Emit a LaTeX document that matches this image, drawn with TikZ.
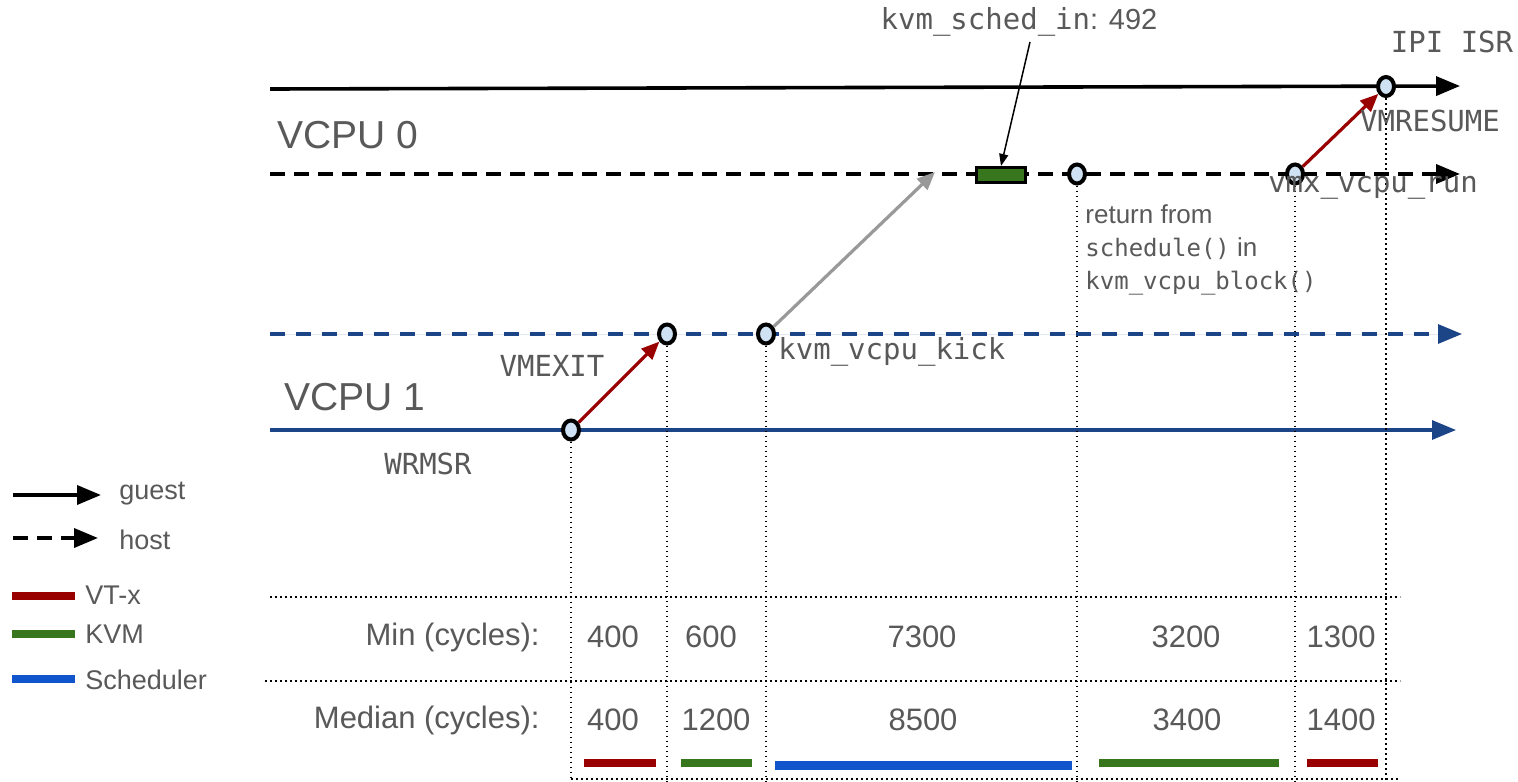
\documentclass[tikz,border=0pt]{standalone}
\usepackage{fontspec}
\setmainfont{Liberation Sans}
\newfontfamily\monofont{DejaVu Sans Mono}
\usetikzlibrary{arrows.meta,shapes.geometric}
\definecolor{txtgray}{HTML}{595959}
\definecolor{vtxred}{HTML}{990000}
\definecolor{kvmgreen}{HTML}{38761D}
\definecolor{schedblue}{HTML}{1155CC}
\definecolor{vcpublue}{HTML}{1C4587}
\definecolor{kickgray}{HTML}{999999}
\definecolor{evfill}{HTML}{CFE2F3}

\begin{document}
\begin{tikzpicture}[x=0.5pt,y=-0.5pt,
  timeline/.style={line width=1.8pt,-{Triangle[length=12pt,width=9.5pt]}},
  hostline/.style={timeline,dash pattern=on 7.5pt off 4.5pt},
  ev/.style={ellipse,draw=black,line width=2pt,fill=evfill,minimum width=8pt,minimum height=9.5pt,inner sep=0pt},
  trans/.style={line width=1.6pt,-{Triangle[length=9pt,width=7.5pt]}},
  grid/.style={line width=0.8pt,dash pattern=on 0.8pt off 1.7pt},
  bar/.style={line width=4pt},
  big/.style={text=txtgray,font=\fontsize{19.5}{22}\selectfont,inner sep=0pt},
  lbl/.style={text=txtgray,font=\fontsize{13.5}{16}\selectfont,inner sep=0pt},
  tab/.style={text=txtgray,font=\fontsize{15.5}{18}\selectfont,inner sep=0pt},
  code/.style={text=txtgray,font=\monofont\fontsize{14.5}{17}\selectfont,inner sep=0pt},
]
\useasboundingbox[fill=white] (0,0) rectangle (1518,781);

% ---- timelines ----
\coordinate (g0s) at (270,89);   \coordinate (g0e) at (1460,86);
\coordinate (h0s) at (270,174);  \coordinate (h0e) at (1460,174);
\coordinate (h1s) at (270,334);  \coordinate (h1e) at (1462,334);
\coordinate (g1s) at (270,430);  \coordinate (g1e) at (1456,430);
\draw[timeline] (g0s) -- (g0e);
\draw[hostline] (h0s) -- (h0e);
\draw[hostline,draw=vcpublue,fill=vcpublue,line width=1.6pt,dash pattern=on 7.5pt off 5.5pt] (h1s) -- (h1e);
\draw[timeline,draw=vcpublue,fill=vcpublue,line width=1.6pt] (g1s) -- (g1e);

\node[big,anchor=west] (vcpu0) at (277,135) {VCPU 0};
\node[big,anchor=west] (vcpu1) at (284,397) {VCPU 1};

% ---- event points ----
\node[ev] (wrmsr) at (571,430) {};
\node[ev] (vmexit) at (667,334) {};
\node[ev] (kick) at (766,334) {};
\node[ev] (ret) at (1077,174) {};
\node[ev] (vmxrun) at (1295,174) {};
\node[ev] (ipi) at (1386,86.5) {};
\node[draw=black,line width=1.5pt,fill=kvmgreen,minimum width=24.5pt,minimum height=7.5pt,inner sep=0pt] (schedin) at (1001,175) {};

% ---- dotted guides and table rules ----
\coordinate (b1) at (571,781);  \coordinate (b2) at (667,781);
\coordinate (b3) at (766,781);  \coordinate (b4) at (1077,781);
\coordinate (b5) at (1295,781); \coordinate (b6) at (1386,781);
\draw[grid] (wrmsr) -- (b1);
\draw[grid] (vmexit) -- (b2);
\draw[grid] (kick) -- (b3);
\draw[grid] (ret) -- (b4);
\draw[grid] (vmxrun) -- (b5);
\draw[grid] (ipi) -- (b6);
\coordinate (r1s) at (270,597); \coordinate (r1e) at (1400,597);
\coordinate (r2s) at (265,681); \coordinate (r2e) at (1400,681);
\coordinate (r3s) at (571,779); \coordinate (r3e) at (1400,779);
\draw[grid] (r1s) -- (r1e);
\draw[grid] (r2s) -- (r2e);
\draw[grid] (r3s) -- (r3e);

% ---- transitions ----
\coordinate (kickend) at (935,172);
\draw[trans,draw=vtxred,fill=vtxred] (wrmsr) -- (vmexit);
\draw[trans,draw=kickgray,fill=kickgray] (kick) -- (kickend);
\draw[trans,draw=vtxred,fill=vtxred] (vmxrun) -- (ipi);

% ---- event labels ----
\node[code] (l-wrmsr) at (428,464) {WRMSR};
\node[code] (l-vmexit) at (552,366) {VMEXIT};
\node[code,anchor=west] (l-kick) at (778,352) {kvm\_vcpu\_kick};
\node[code] (l-sched) at (1019,22) {kvm\_sched\_in\textrm{: 492}};
\node[code] (l-ipi) at (1452,42) {IPI ISR};
\node[code] (l-resume) at (1430,121) {VMRESUME};
\node[code] (l-vmxrun) at (1373,188) {vmx\_vcpu\_run};
\node[lbl,anchor=west,align=left,font=\fontsize{13}{16.5}\selectfont] (l-ret) at (1085,250)
  {return from\\{\monofont\fontsize{12}{16.5}\selectfont schedule()} in\\{\monofont\fontsize{12}{16.5}\selectfont kvm\_vcpu\_block()}};
\coordinate (sa) at (1030,42);
\draw[line width=0.75pt,-{Triangle[length=6pt,width=4.5pt]}] (sa) -- (schedin.north);

% ---- legend ----
\coordinate (lg1s) at (13,495); \coordinate (lg1e) at (101,495);
\coordinate (lg2s) at (13,538); \coordinate (lg2e) at (98,538);
\draw[timeline] (lg1s) -- (lg1e);
\draw[hostline] (lg2s) -- (lg2e);
\node[lbl,anchor=west] (t-guest) at (119,494) {guest};
\node[lbl,anchor=west] (t-host) at (119,540) {host};
\coordinate (lr1) at (12,596); \coordinate (lr2) at (75,596);
\coordinate (lk1) at (12,634); \coordinate (lk2) at (75,634);
\coordinate (ls1) at (12,679); \coordinate (ls2) at (75,679);
\draw[bar,vtxred] (lr1) -- (lr2);
\draw[bar,kvmgreen] (lk1) -- (lk2);
\draw[bar,schedblue] (ls1) -- (ls2);
\node[lbl,anchor=west] (t-vtx) at (85,595) {VT-x};
\node[lbl,anchor=west] (t-kvm) at (85,634) {KVM};
\node[lbl,anchor=west] (t-sch) at (85,680) {Scheduler};

% ---- cycle table ----
\node[tab,anchor=east] (minhdr) at (540,637) {Min (cycles):};
\node[tab,anchor=east] (medhdr) at (540,720) {Median (cycles):};
\node[tab] (min1) at (613,637) {400};
\node[tab] (min2) at (711,637) {600};
\node[tab] (min3) at (922,637) {7300};
\node[tab] (min4) at (1186,637) {3200};
\node[tab] (min5) at (1341,637) {1300};
\node[tab] (med1) at (613,720) {400};
\node[tab] (med2) at (716,720) {1200};
\node[tab] (med3) at (923,720) {8500};
\node[tab] (med4) at (1187,720) {3400};
\node[tab] (med5) at (1341,720) {1400};

% ---- category bars under each interval ----
\coordinate (c1s) at (584,763);  \coordinate (c1e) at (656,763);
\coordinate (c2s) at (681,763);  \coordinate (c2e) at (752,763);
\coordinate (c3s) at (775,765);  \coordinate (c3e) at (1072,765);
\coordinate (c4s) at (1099,763); \coordinate (c4e) at (1279,763);
\coordinate (c5s) at (1307,763); \coordinate (c5e) at (1378,763);
\draw[bar,vtxred] (c1s) -- (c1e);
\draw[bar,kvmgreen] (c2s) -- (c2e);
\draw[bar,schedblue,line width=4.5pt] (c3s) -- (c3e);
\draw[bar,kvmgreen] (c4s) -- (c4e);
\draw[bar,vtxred] (c5s) -- (c5e);
\end{tikzpicture}
\end{document}
